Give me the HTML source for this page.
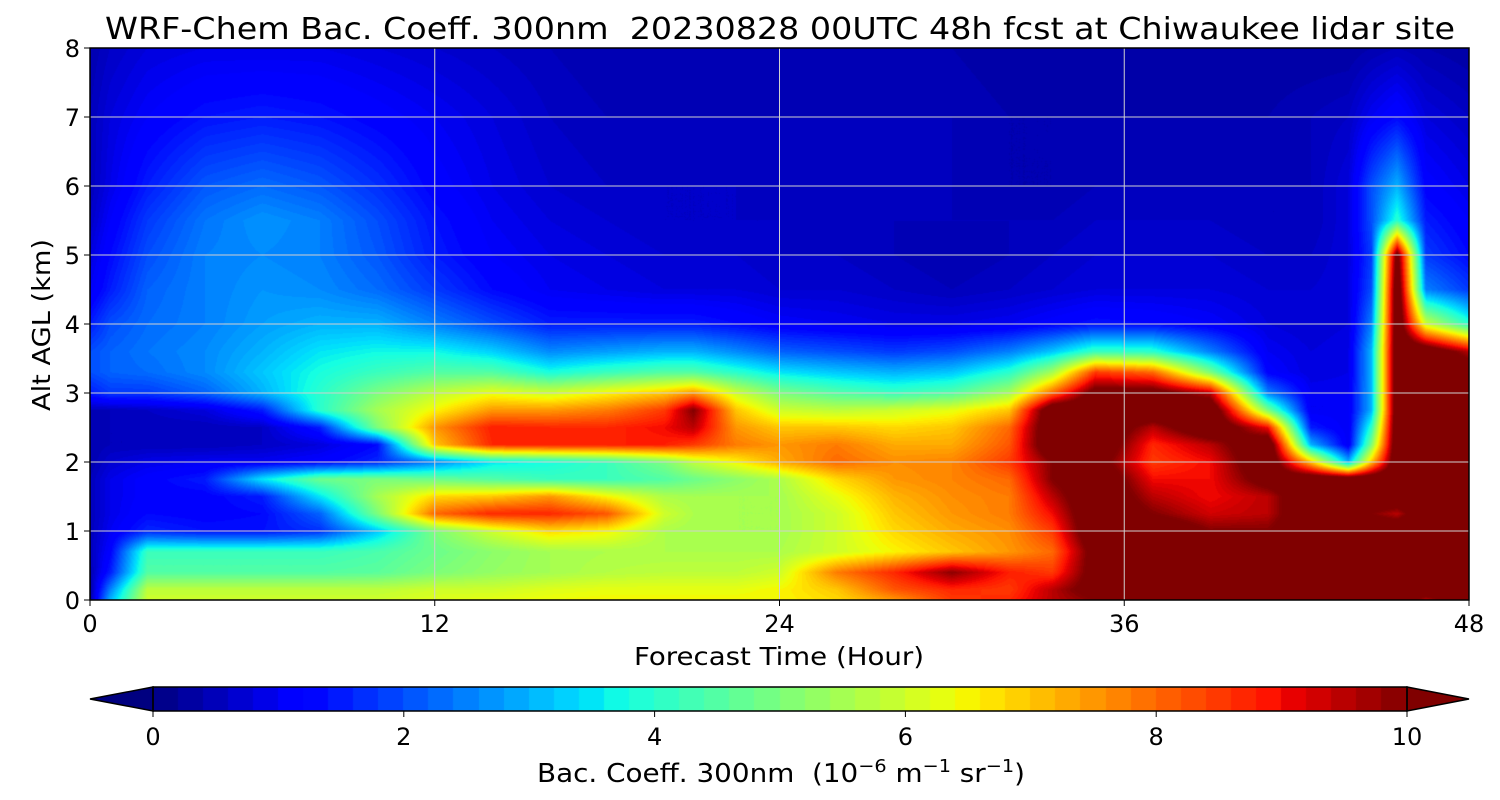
<!DOCTYPE html>
<html><head><meta charset="utf-8">
<style>
body{margin:0;background:#fff;width:1500px;height:800px;overflow:hidden;font-family:"DejaVu Sans","Liberation Sans",sans-serif;}
#wrap{position:relative;width:1500px;height:800px;}
canvas{position:absolute;}
svg{position:absolute;left:0;top:0;}
</style></head>
<body>
<div id="wrap">
<canvas id="plot" width="1379" height="552" style="left:90px;top:48px"></canvas>
<canvas id="cbar" width="1254" height="24" style="left:153px;top:687px"></canvas>
<svg id="ov" width="1500" height="800"></svg>
</div>
<script>
const times=[0,0.7,2,4,6,8,10,12,14,16,18,20,21,22.5,24,26,28,30,32,33.5,35,37,39,41,42.5,43.8,44.6,45.5,46.5,48];
const alts=[0,0.15,0.4,0.7,1.0,1.25,1.5,1.75,2.0,2.25,2.5,2.75,3.0,3.3,3.6,4.0,4.5,5.0,5.5,6.0,7.0,8.0];
const values=[
[0.3,3,6,6,6,6,6,6.2,6.3,6.4,6.5,6.5,6.5,6.5,6.5,6.8,7.5,8.5,8.7,9.5,10,10.5,11,11,11,11,11,11,9.5,11],
[0.3,2.5,5.8,5.8,5.8,5.8,5.8,6,6,6.2,6.3,6.3,6.3,6.3,6.5,7,8.2,8.7,8.5,9.5,10.5,11,11,11,11,11,11,11,11,11],
[0.4,1.5,4.5,4.5,4.5,4.5,4.6,5,5.3,5.5,5.7,5.8,5.8,5.8,6,7.8,8.7,9.9,8.8,8.5,10.5,11,11,11,11,11,11,11,11,11],
[0.5,1.2,4.2,4.2,4.2,4.2,4.4,4.8,5.2,5.5,5.6,5.6,5.6,5.6,5.6,6,6.5,7,7.5,8,10.5,11,11,11,11,11,11,11,11,11],
[0.5,1,1.6,1.4,1.4,1.7,3.2,5,6,6.8,6.5,5.6,5.5,5.5,5.5,6,6.8,7.3,7.6,8.5,11,11,10,10,11,11,11,11,11,11],
[0.5,0.9,1.3,1.2,1.3,2.2,5,8,8.7,8.7,8.2,6,5.6,5.5,5.5,6,7,7.5,7.8,9,11,10,9.3,9.5,11,11,10,9.5,11,11],
[0.5,0.9,1.2,1.2,1.5,3.5,5.5,6.8,7,7.5,6.5,5.6,5.5,5.5,5.5,6.3,7.2,7.6,7.8,9.5,11,9.5,9,9.5,11,11,11,11,11,11],
[0.5,0.9,1.2,1.5,3.5,4.8,5,4.8,4.5,4.2,4.2,4.5,4.8,5.2,5.6,6.8,7.5,7.7,8,10,11,9,9,10.5,11,11,11,11,11,11],
[0.4,0.7,0.9,1,1,1.2,1.6,2.5,3.5,3.8,4.2,5,5.8,6.5,7.3,8,7.6,7.7,8.5,10,10.5,8.5,9,11,7,3,7,11,11,11],
[0.4,0.5,0.5,0.5,0.6,0.8,1.3,7,8.7,8.8,8.8,8.8,8.5,7.8,7.5,7.8,7.3,7.3,8.2,11,11,8.7,9.5,11,3,1,5,11,11,11],
[0.4,0.5,0.5,0.5,0.6,1.5,5,7.5,8.8,8.7,8.7,9,9.5,7.5,7,7,6.8,7,8,11,11,9.5,11,9,1.5,1,4,11,11,11],
[0.5,0.5,0.6,0.8,1.5,4,5.5,6.5,7.5,7.5,7.8,8.5,10,7,6,5.8,6,6.3,7,11,11,11,11,5,1,1,3,11,11,11],
[1.5,1.8,1.8,2.2,3,4,5,5.8,6.3,6,6.5,7,7.5,6,5,4.5,4.2,4.5,5.5,8,10.5,10.5,9.5,2.5,1,1,3,11,11,11],
[2,2.2,2.3,2.6,3.2,3.8,4.2,4.5,4.5,3.8,4.2,4.5,4.5,4,3.5,3.2,3,3.2,4,5.5,8.5,8,5,1.2,0.8,0.9,3,11,11,11],
[2,2.2,2.4,2.6,3,3.5,3.7,3.7,3.3,2.6,2.8,3,3,2.6,2.2,2,1.8,2,2.5,3.2,4.2,4,2.5,1,0.8,0.9,3,11,11,9.5],
[1.5,2,2.3,2.5,2.8,3,3,2.5,2,1.5,1.5,1.5,1.5,1.3,1.1,1,0.9,0.9,1,1.2,1.4,1.3,1.1,0.8,0.7,0.8,2.5,11,6,4],
[1,1.5,2.2,2.5,2.7,2.6,2.3,1.8,1.3,1,0.9,0.8,0.8,0.8,0.7,0.7,0.6,0.5,0.6,0.7,0.8,0.8,0.8,0.7,0.7,0.8,2,11,2.5,1.8],
[0.8,1.3,2,2.5,2.6,2.5,2.1,1.5,1.1,0.9,0.8,0.7,0.7,0.7,0.6,0.6,0.5,0.4,0.5,0.6,0.7,0.7,0.7,0.6,0.6,0.8,1.8,10.5,1.8,1.3],
[0.6,1.1,1.8,2.4,2.7,2.5,2,1.4,1,0.8,0.7,0.6,0.6,0.6,0.6,0.5,0.5,0.5,0.5,0.5,0.6,0.6,0.6,0.5,0.5,0.8,2,4,1.5,1.1],
[0.5,0.9,1.5,2.1,2.3,2.1,1.7,1.2,0.9,0.7,0.6,0.6,0.6,0.6,0.5,0.5,0.5,0.5,0.4,0.4,0.5,0.5,0.5,0.5,0.5,0.8,2,3,1.2,0.9],
[0.5,0.8,1.1,1.4,1.5,1.4,1.2,1,0.8,0.6,0.5,0.5,0.5,0.5,0.5,0.5,0.5,0.5,0.4,0.4,0.4,0.4,0.4,0.4,0.5,0.6,1,1.3,0.8,0.6],
[0.4,0.6,0.8,0.9,0.9,0.9,0.8,0.7,0.6,0.5,0.4,0.4,0.4,0.4,0.4,0.4,0.4,0.4,0.3,0.3,0.3,0.3,0.3,0.3,0.3,0.3,0.4,0.5,0.4,0.3]
];
const xTicks=[0,12,24,36,48];
const yTicks=[0,1,2,3,4,5,6,7,8];
const cbTicks=[0,2,4,6,8,10];

const X0=90,X1=1469,Y0=600,Y1=48,TMAX=48,AMAX=8;
const xs=t=>X0+(t/TMAX)*(X1-X0);
const ys=a=>Y0-(a/AMAX)*(Y0-Y1);
function seg(p,x){for(let i=1;i<p.length;i++){if(x<=p[i][0]){const a=p[i-1],b=p[i];return a[1]+(b[1]-a[1])*(x-a[0])/(b[0]-a[0]);}}return p[p.length-1][1];}
function jet(x){return[seg([[0,0],[0.35,0],[0.66,1],[0.89,1],[1,0.5]],x),seg([[0,0],[0.125,0],[0.375,1],[0.64,1],[0.91,0],[1,0]],x),seg([[0,0.5],[0.11,1],[0.34,1],[0.65,0],[1,0]],x)].map(v=>Math.round(v*255));}
const NL=50,FL=100,VMAX=10;
function colorOf(v){if(v<0)return jet(0);let i=Math.floor(v/VMAX*FL);if(i>=FL)return jet(1);return jet((i+0.5)/FL);}
function idx(arr,v){for(let i=0;i<arr.length-1;i++)if(v<=arr[i+1])return i;return arr.length-2;}
function sample(t,a){const i=idx(times,t),j=idx(alts,a);const ft=(t-times[i])/(times[i+1]-times[i]),fa=(a-alts[j])/(alts[j+1]-alts[j]);
return values[j][i]*(1-ft)*(1-fa)+values[j][i+1]*ft*(1-fa)+values[j+1][i]*(1-ft)*fa+values[j+1][i+1]*ft*fa;}
const pc=document.getElementById('plot').getContext('2d');
const W=1379,H=552,img=pc.createImageData(W,H);
for(let py=0;py<H;py++){const a=(H-py-0.5)/H*AMAX;for(let px=0;px<W;px++){const t=(px+0.5)/W*TMAX;const c=colorOf(sample(t,a));const k=(py*W+px)*4;img.data[k]=c[0];img.data[k+1]=c[1];img.data[k+2]=c[2];img.data[k+3]=255;}}
pc.putImageData(img,0,0);
const cc=document.getElementById('cbar').getContext('2d');
for(let i=0;i<NL;i++){const c=jet((i+0.5)/NL);cc.fillStyle=`rgb(${c})`;cc.fillRect(Math.floor(i*1254/NL),0,Math.ceil(1254/NL)+1,24);}
const ov=document.getElementById('ov');const NS='http://www.w3.org/2000/svg';
function el(tag,at,txt){const e=document.createElementNS(NS,tag);for(const k in at)e.setAttribute(k,at[k]);if(txt!==undefined)e.textContent=txt;ov.appendChild(e);return e;}
xTicks.forEach(t=>{const x=xs(t);
const g=el('line',{x1:x,x2:x,y1:Y1,y2:Y0,stroke:'#d0d0d0','stroke-width':1});


el('line',{x1:x,x2:x,y1:Y0,y2:Y0+6,stroke:'#000','stroke-width':1});
const l=el('text',{x:x,y:632,'font-size':24,'text-anchor':'middle'},String(t));

});
yTicks.forEach(a=>{const y=ys(a);
const g=el('line',{x1:X0,x2:X1,y1:y,y2:y,stroke:'#d0d0d0','stroke-width':1});


el('line',{x1:X0-6,x2:X0,y1:y,y2:y,stroke:'#000','stroke-width':1});
const l=el('text',{x:80,y:y+9,'font-size':24,'text-anchor':'end'},String(a));

});
const fr=el('rect',{x:X0,y:Y1,width:X1-X0,height:Y0-Y1,fill:'none',stroke:'#000','stroke-width':1.5});


const lo=jet(0),hi=jet(1);
const tl=el('polygon',{points:'153,687 90,699 153,711',fill:`rgb(${lo})`,stroke:'#000','stroke-width':1.5});


const tr=el('polygon',{points:'1407,687 1469,699 1407,711',fill:`rgb(${hi})`,stroke:'#000','stroke-width':1.5});


el('rect',{x:153,y:687,width:1254,height:24,fill:'none',stroke:'#000','stroke-width':1.5});
cbTicks.forEach(v=>{const x=153+v/10*1254;
el('line',{x1:x,x2:x,y1:711,y2:717,stroke:'#000','stroke-width':1});
const l=el('text',{x:x,y:745,'font-size':24,'text-anchor':'middle'},String(v));

});
</script>
<svg width="1500" height="800" style="position:absolute;left:0;top:0;white-space:pre">
<text x="780" y="39" font-size="30" text-anchor="middle" textLength="1350" lengthAdjust="spacingAndGlyphs" xml:space="preserve">WRF-Chem Bac. Coeff. 300nm  20230828 00UTC 48h fcst at Chiwaukee lidar site</text>
<text x="779" y="665" font-size="25" text-anchor="middle" textLength="290" lengthAdjust="spacingAndGlyphs">Forecast Time (Hour)</text>
<text x="50" y="325" font-size="25" text-anchor="middle" transform="rotate(-90 50 325)" textLength="172" lengthAdjust="spacingAndGlyphs">Alt AGL (km)</text>
<text x="537" y="782" font-size="26" xml:space="preserve" textLength="488" lengthAdjust="spacingAndGlyphs">Bac. Coeff. 300nm  (10<tspan dy="-10" font-size="18">−6</tspan><tspan dy="10"> m</tspan><tspan dy="-10" font-size="18">−1</tspan><tspan dy="10"> sr</tspan><tspan dy="-10" font-size="18">−1</tspan><tspan dy="10">)</tspan></text>
</svg>
</body></html>
